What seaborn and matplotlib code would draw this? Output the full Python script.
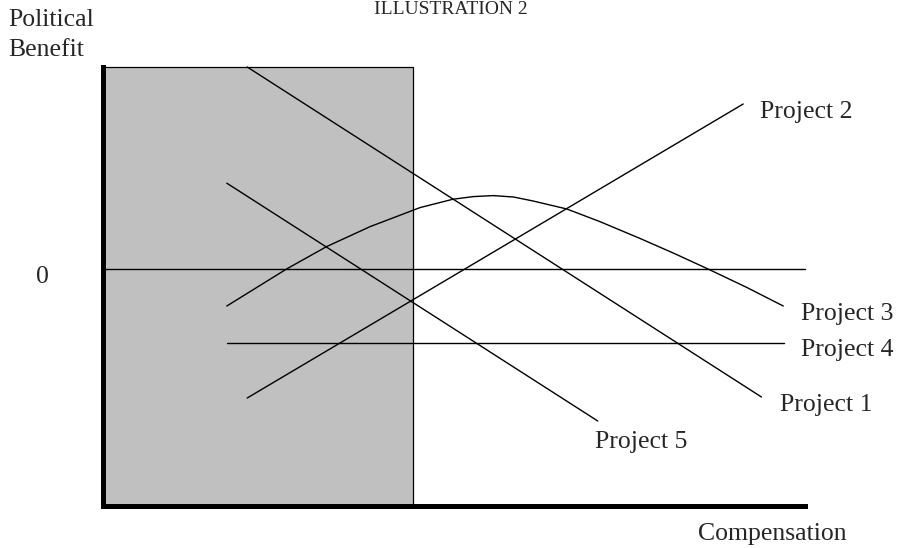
import matplotlib
matplotlib.use("Agg")
import matplotlib.pyplot as plt
from matplotlib.patches import Rectangle
import seaborn as sns

# values (x: compensation 0-100, y: political benefit, 0 = neutral)
p1_x = [20.6, 93.8]
p1_y = [10.1, -6.4]
p2_x = [20.6, 91.2]
p2_y = [-6.45, 8.25]
p3_x = [17.7, 26.2, 31.9, 38.1, 45.2, 49.9, 52.8, 55.6, 58.5, 61.3, 66.1, 70.8, 76.5, 81.3, 86.2, 91.7, 96.9]
p3_y = [-1.85, 0.0, 1.12, 2.12, 3.07, 3.49, 3.62, 3.67, 3.6, 3.4, 3.0, 2.37, 1.53, 0.79, 0.0, -0.92, -1.85]
p4_x = [17.7, 97.0]
p4_y = [-3.7, -3.7]
p5_x = [17.7, 70.5]
p5_y = [4.29, -7.6]
zero_x = [0, 100]
zero_y = [0, 0]

shade_end = 44.2   # right edge of the grey region
y_top = 10.1
y_bottom = -11.85

labels = ["Project 1", "Project 2", "Project 3", "Project 4", "Project 5"]
label_x = [96.5, 93.6, 99.5, 99.5, 70.1]
label_y = [-7.1, 7.53, -2.55, -4.35, -8.93]

sns.set_style("white")
plt.rcParams['font.family'] = ['Liberation Serif', 'DejaVu Serif']

fig = plt.figure(figsize=(9.06, 5.48), dpi=100)
ax = fig.add_axes([102.5 / 906, 1 - 506 / 548, (805 - 102.5) / 906, (506 - 67) / 548])
ax.set_xlim(0, 100)
ax.set_ylim(y_bottom, y_top)

# grey shaded block
ax.add_patch(Rectangle((0, y_bottom), shade_end, y_top - y_bottom,
                       facecolor='#c0c0c0', edgecolor='black', lw=0.9,
                       clip_on=False, zorder=0))

for xs, ys in [(zero_x, zero_y), (p1_x, p1_y), (p2_x, p2_y), (p3_x, p3_y),
               (p4_x, p4_y), (p5_x, p5_y)]:
    sns.lineplot(x=xs, y=ys, color='black', lw=1.0, sort=False,
                 estimator=None, ax=ax, clip_on=False)

for name, lx, ly in zip(labels, label_x, label_y):
    ax.text(lx, ly, name, fontsize=18.5, ha='left', va='baseline')

ax.text(-8.6, -0.7, "0", fontsize=18.5, ha='center', va='baseline')
ax.text(84.8, -13.55, "Compensation", fontsize=18.5, ha='left', va='baseline')

fig.text(8 / 906, 1 - 26 / 548, "Political", fontsize=18.5, ha='left', va='baseline')
fig.text(8 / 906, 1 - 56 / 548, "Benefit", fontsize=18.5, ha='left', va='baseline')
fig.text(451 / 906, 1 - 1 / 548, "ILLUSTRATION 2", fontsize=14, ha='center', va='top')

ax.set_xticks([])
ax.set_yticks([])
ax.set_xlabel("")
ax.set_ylabel("")
for side in ['top', 'right']:
    ax.spines[side].set_visible(False)
for side in ['left', 'bottom']:
    ax.spines[side].set_color('black')
    ax.spines[side].set_linewidth(3.6)

fig.savefig("out.png", dpi=100)
